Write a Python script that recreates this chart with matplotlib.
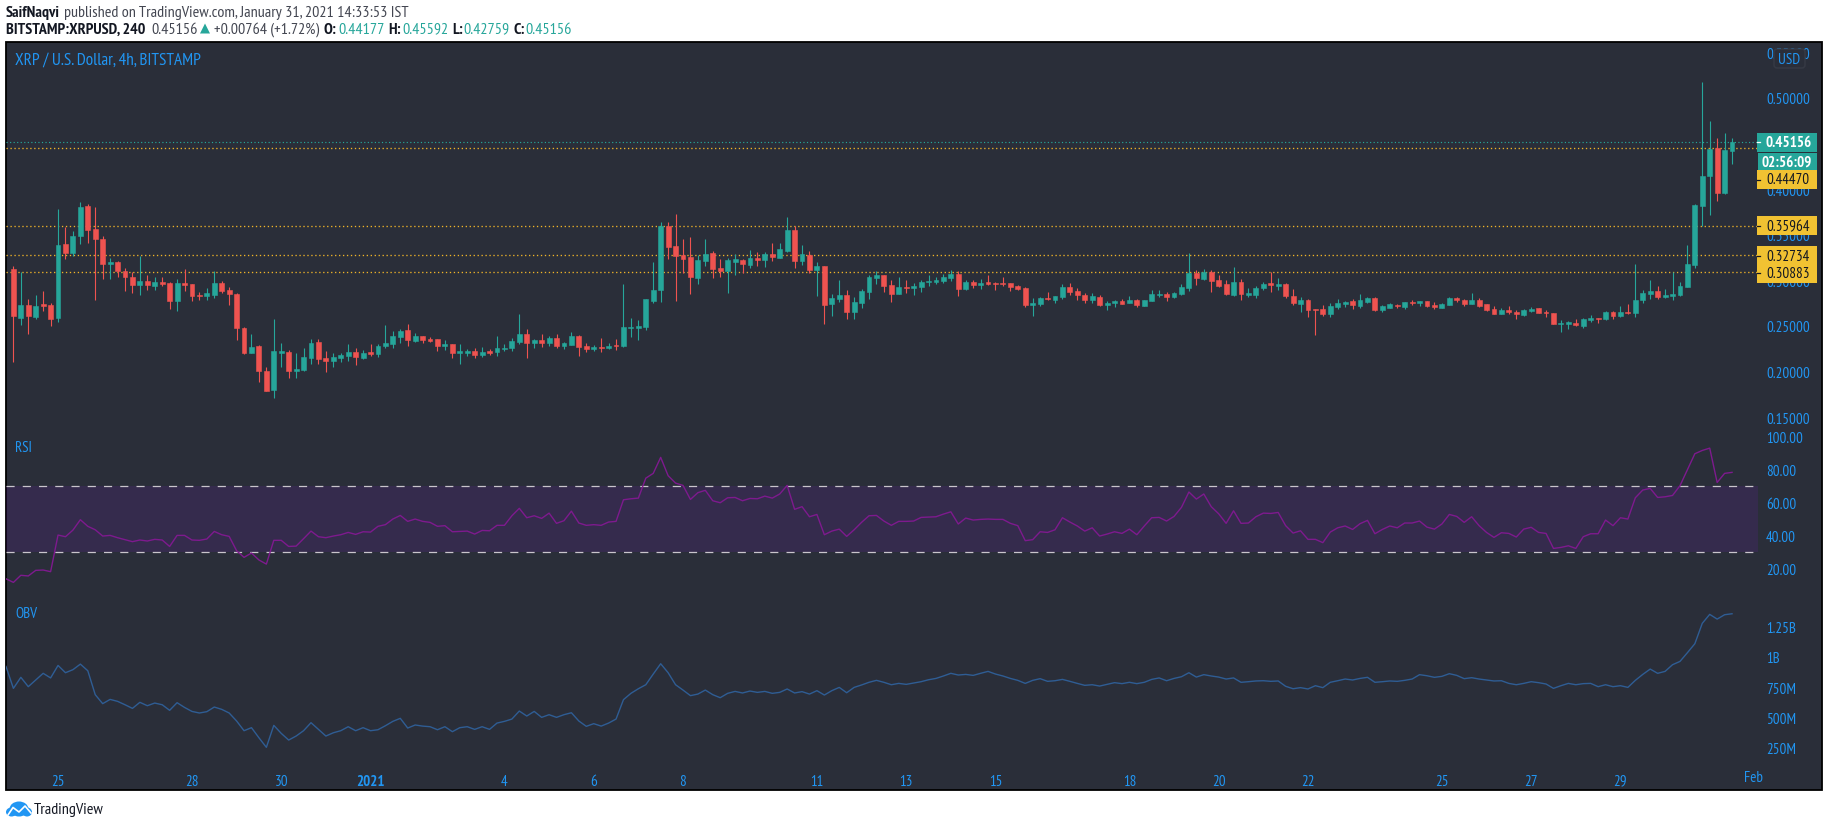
import numpy as np
import matplotlib
matplotlib.use("Agg")
import matplotlib.pyplot as plt
from matplotlib.patches import Rectangle, Polygon, Ellipse, FancyBboxPatch

plt.rcParams['font.family'] = ['PT Sans Narrow', 'Roboto Condensed', 'Liberation Sans', 'DejaVu Sans']

opens = [.3127,.2590,.2732,.2597,.2736,.2732,.2590,.3400,.3302,.3488,
.3816,.3565,.3455,.3174,.3203,.3105,.3039,.2951,.2995,.2940,
.2984,.2973,.2769,.2973,.2962,.2842,.2824,.2842,.2973,.2897,
.2853,.2480,.2199,.2283,.2010,.1794,.2207,.2218,.2010,.2021,
.2152,.2327,.2152,.2119,.2152,.2174,.2218,.2152,.2218,.2196,
.2283,.2305,.2382,.2459,.2338,.2393,.2360,.2360,.2283,.2305,
.2207,.2207,.2229,.2185,.2229,.2218,.2250,.2261,.2327,.2415,
.2316,.2349,.2316,.2371,.2283,.2294,.2393,.2283,.2250,.2272,
.2261,.2294,.2282,.2479,.2479,.2490,.2775,.2896,.3596,.3377,
.3279,.3257,.3027,.3213,.3301,.3136,.3104,.3202,.3224,.3169,
.3246,.3224,.3290,.3246,.3323,.3553,.3213,.3279,.3115,.3158,
.2742,.2797,.2841,.2655,.2753,.2874,.3027,.3060,.2950,.2852,
.2928,.2917,.2928,.2983,.2983,.2994,.3027,.3071,.2906,.2983,
.2950,.2983,.2976,.2972,.2972,.2939,.2917,.2731,.2742,.2808,
.2786,.2819,.2928,.2885,.2841,.2786,.2819,.2731,.2753,.2775,
.2753,.2786,.2720,.2775,.2841,.2852,.2819,.2852,.2917,.3082,
.3016,.3093,.3005,.2962,.2841,.2984,.2841,.2841,.2918,.2973,
.2940,.2962,.2830,.2743,.2787,.2684,.2688,.2633,.2710,.2743,
.2776,.2721,.2765,.2808,.2677,.2699,.2732,.2710,.2765,.2754,
.2776,.2732,.2699,.2732,.2808,.2787,.2743,.2787,.2743,.2688,
.2633,.2677,.2655,.2622,.2666,.2699,.2655,.2644,.2524,.2524,
.2535,.2502,.2568,.2589,.2578,.2655,.2611,.2655,.2644,.2787,
.2852,.2885,.2819,.2830,.2841,.2929,.3170,.3816,.4144,.4451,
.3958,.44177]

closes = [.2605,.2732,.2605,.2721,.2721,.2579,.3389,.3302,.3488,.3805,
.3557,.3448,.3174,.3203,.3097,.3032,.2951,.2995,.2951,.2984,
.2962,.2769,.2973,.2951,.2831,.2824,.2864,.2973,.2886,.2853,
.2480,.2207,.2272,.2002,.1791,.2229,.2229,.2010,.2031,.2163,
.2316,.2141,.2119,.2163,.2185,.2218,.2163,.2207,.2196,.2283,
.2316,.2393,.2448,.2349,.2393,.2349,.2338,.2283,.2305,.2207,
.2229,.2229,.2185,.2218,.2207,.2261,.2261,.2338,.2415,.2316,
.2349,.2316,.2371,.2283,.2316,.2393,.2272,.2250,.2272,.2261,
.2283,.2283,.2490,.2490,.2501,.2797,.2896,.3596,.3366,.3268,
.3235,.3038,.3224,.3290,.3125,.3104,.3224,.3235,.3180,.3246,
.3224,.3290,.3257,.3344,.3553,.3213,.3290,.3115,.3158,.2731,
.2808,.2841,.2655,.2764,.2885,.3038,.3060,.2939,.2852,.2928,
.2917,.2939,.2983,.2994,.3005,.3038,.3071,.2906,.2983,.2950,
.2972,.2961,.2965,.2961,.2928,.2906,.2731,.2753,.2808,.2797,
.2830,.2928,.2874,.2841,.2786,.2830,.2731,.2753,.2775,.2742,
.2786,.2731,.2786,.2852,.2852,.2819,.2863,.2928,.3082,.3027,
.3093,.2994,.2939,.2852,.2984,.2852,.2863,.2918,.2962,.2951,
.2962,.2830,.2754,.2787,.2677,.2677,.2633,.2721,.2754,.2765,
.2732,.2787,.2808,.2677,.2721,.2743,.2721,.2765,.2754,.2776,
.2721,.2710,.2743,.2808,.2787,.2743,.2787,.2721,.2677,.2633,
.2677,.2655,.2633,.2677,.2688,.2644,.2644,.2524,.2535,.2546,
.2513,.2578,.2589,.2578,.2655,.2611,.2655,.2644,.2787,.2863,
.2885,.2819,.2841,.2852,.2940,.3181,.3827,.4144,.4440,.3958,
.4429,.45156]

highs = [.3156,.3090,.2798,.2842,.2886,.2754,.3784,.3586,.3539,.3860,
.3838,.3805,.3484,.3243,.3210,.3134,.3090,.3272,.3061,.3035,
.3035,.2984,.3017,.3127,.2962,.2871,.2918,.3105,.2995,.2926,
.2864,.2488,.2415,.2294,.2053,.2579,.2316,.2239,.2207,.2261,
.2360,.2360,.2229,.2207,.2207,.2305,.2261,.2239,.2305,.2305,
.2513,.2440,.2470,.2524,.2426,.2393,.2382,.2360,.2349,.2305,
.2305,.2250,.2261,.2272,.2250,.2393,.2305,.2371,.2634,.2470,
.2360,.2415,.2393,.2415,.2327,.2437,.2404,.2316,.2294,.2371,
.2316,.2360,.2961,.2589,.2567,.2797,.3202,.3640,.3640,.3728,
.3454,.3476,.3279,.3454,.3323,.3235,.3246,.3290,.3235,.3333,
.3312,.3312,.3410,.3410,.3695,.3596,.3388,.3323,.3202,.3158,
.2852,.3005,.2896,.2819,.2906,.3060,.3104,.3060,.3005,.3038,
.3005,.2972,.3005,.3060,.3038,.3071,.3115,.3104,.3005,.3005,
.3016,.3060,.2983,.3038,.2972,.2950,.2928,.2808,.2819,.2874,
.2830,.2961,.2972,.2917,.2863,.2863,.2841,.2775,.2786,.2797,
.2830,.2797,.2786,.2896,.2896,.2874,.2874,.2961,.3301,.3115,
.3125,.3115,.3060,.3002,.3141,.3017,.2918,.2940,.2984,.3093,
.3027,.2973,.2907,.2819,.2798,.2688,.2732,.2754,.2798,.2776,
.2798,.2852,.2819,.2819,.2732,.2754,.2743,.2765,.2787,.2776,
.2776,.2765,.2754,.2819,.2819,.2798,.2863,.2808,.2743,.2721,
.2699,.2721,.2677,.2688,.2710,.2699,.2677,.2644,.2567,.2557,
.2578,.2589,.2622,.2589,.2666,.2666,.2721,.2743,.3181,.2896,
.3006,.2940,.2907,.3093,.2984,.3389,.3838,.5174,.4747,.4560,
.4615,.45592]

lows = [.2105,.2506,.2407,.2579,.2659,.2495,.2539,.3229,.3262,.3400,
.3411,.2780,.3010,.3017,.3032,.2878,.2864,.2835,.2889,.2897,
.2933,.2681,.2659,.2878,.2769,.2780,.2780,.2802,.2864,.2725,
.2342,.2188,.2199,.1885,.1783,.1707,.2053,.1926,.1933,.2010,
.2086,.2086,.1999,.2053,.2108,.2119,.2075,.2141,.2174,.2163,
.2261,.2261,.2316,.2283,.2327,.2316,.2327,.2229,.2239,.2152,
.2086,.2174,.2152,.2163,.2185,.2174,.2229,.2229,.2305,.2152,
.2261,.2272,.2283,.2261,.2250,.2294,.2174,.2218,.2229,.2218,
.2250,.2239,.2271,.2381,.2348,.2458,.2753,.2764,.3235,.2775,
.3082,.2852,.2961,.3158,.3027,.3038,.2863,.3060,.3082,.3136,
.3158,.3147,.3213,.3246,.3312,.3136,.3169,.3082,.2830,.2523,
.2611,.2764,.2578,.2578,.2698,.2797,.2961,.2874,.2764,.2852,
.2863,.2841,.2874,.2939,.2961,.2972,.2994,.2830,.2896,.2917,
.2906,.2950,.2896,.2939,.2885,.2896,.2709,.2611,.2720,.2786,
.2753,.2797,.2841,.2786,.2753,.2753,.2720,.2676,.2709,.2742,
.2753,.2709,.2720,.2775,.2819,.2775,.2808,.2841,.2885,.2950,
.3005,.2874,.2928,.2834,.2830,.2790,.2819,.2808,.2896,.2874,
.2896,.2808,.2732,.2655,.2600,.2403,.2611,.2600,.2688,.2710,
.2688,.2699,.2754,.2666,.2655,.2699,.2699,.2688,.2732,.2721,
.2710,.2688,.2699,.2732,.2765,.2721,.2743,.2710,.2666,.2633,
.2633,.2633,.2578,.2611,.2655,.2644,.2600,.2524,.2436,.2469,
.2502,.2480,.2546,.2535,.2568,.2578,.2600,.2633,.2600,.2754,
.2798,.2798,.2808,.2787,.2830,.2929,.3137,.3597,.3717,.3871,
.3947,.42759]

rsi = [13.6,11.4,15.7,15.3,18.7,18.9,17.9,40.1,39.1,43.1,49.4,45.4,43.3,39.5,39.9,38.5,37.3,36.1,37.1,36.5,37.5,37.1,33.2,39.9,39.9,37.1,36.9,37.7,42.3,40.3,39.3,30.6,26.6,29.2,25.0,22.5,36.9,36.9,33.2,33.4,37.9,42.5,39.1,38.5,39.5,40.3,41.7,40.5,42.1,41.9,45.4,46.4,49.8,52.0,48.4,49.8,48.4,47.8,45.4,45.8,42.1,42.3,42.5,40.7,42.9,42.7,46.0,46.0,51.8,56.3,50.6,51.8,50.2,53.4,47.2,48.8,54.6,47.4,46.0,46.4,46.0,48.0,48.4,
61.5,62.1,62.5,74.6,77.5,87.2,76.1,71.6,70.2,61.7,65.8,67.2,60.9,59.7,62.7,62.9,60.9,62.3,62.1,63.7,62.5,65.0,70.2,
55.7,57.3,51.2,52.6,40.3,42.5,43.7,39.3,43.3,47.8,51.8,52.0,48.6,46.0,48.4,48.4,48.6,50.8,51.0,51.2,52.8,54.2,46.8,50.4,49.2,49.6,49.8,49.6,49.6,47.2,45.8,36.7,37.3,42.1,41.7,43.3,50.6,48.0,45.6,42.5,44.5,39.5,40.7,42.1,41.1,43.7,40.3,45.6,50.6,50.8,48.6,51.4,56.9,66.2,61.9,65.0,57.3,53.0,47.2,54.8,47.2,
47.4,51.2,53.4,53.2,53.8,45.8,41.3,42.7,37.5,37.5,35.5,41.9,44.5,45.6,43.5,47.0,49.0,40.9,43.5,45.6,44.5,47.4,47.4,48.6,44.9,43.7,46.8,52.6,51.4,47.8,51.2,45.8,41.7,38.7,41.5,41.1,38.9,43.7,44.8,41.7,41.1,32.0,32.6,33.6,32.0,39.1,40.9,40.9,49.2,45.8,50.6,49.8,62.7,67.4,68.4,62.9,63.3,64.1,70.0,79.7,89.4,91.4,92.8,72.0,77.5,78.1]

obv = [920,739,830,753,808,863,825,928,868,893,939,884,687,613,648,632,604,574,624,596,618,604,558,621,582,549,536,547,585,566,536,470,390,415,332,253,434,368,313,346,390,456,401,346,373,390,423,390,415,390,398,431,467,492,412,437,428,423,398,423,382,415,423,401,423,401,453,467,486,552,511,549,500,522,500,522,538,470,426,448,428,453,486,
646,698,736,769,857,942,868,769,725,679,692,725,687,662,698,714,701,717,706,714,698,706,734,
701,712,692,720,684,720,747,703,747,767,789,805,789,769,780,772,783,794,810,821,841,863,849,854,846,863,879,857,841,821,805,780,805,819,797,802,813,797,780,764,769,758,772,786,778,789,778,789,813,825,802,821,835,868,832,852,841,832,816,825,789,
794,800,802,797,800,756,736,745,734,761,745,789,802,816,808,821,830,789,794,800,797,805,816,852,843,830,838,860,846,819,827,816,808,800,802,780,769,780,794,786,775,739,761,780,769,778,780,753,769,753,761,747,805,854,898,863,879,934,961,1033,1107,1275,1349,1310,1346,1354]

levels = [0.44470, 0.35964, 0.32734, 0.30883]
last_price = 0.45156
price_ticks = [0.15, 0.20, 0.25, 0.30, 0.35, 0.40, 0.50, 0.55]
rsi_ticks = [20, 40, 60, 80, 100]
obv_ticks = [250, 500, 750, 1000, 1250]
obv_labels = ['250M', '500M', '750M', '1B', '1.25B']
date_pos = [6, 24, 36, 48, 66, 78, 90, 108, 120, 132, 150, 162, 174, 192, 204, 216, 234]
date_labels = ['25', '28', '30', '2021', '4', '6', '8', '11', '13', '15', '18', '20', '22', '25', '27', '29', 'Feb']

W, H = 1828, 828
BG, RED, TEAL, YEL, YELB, BLUE = '#2A2E39', '#EF5350', '#26A69A', '#F0B428', '#F1C232', '#2196F3'
FS = 10.8
fig = plt.figure(figsize=(W/100, H/100), dpi=100, facecolor='white')

def pane(x0, y0, x1, y1, **kw):
    return fig.add_axes([x0/W, 1-y1/H, (x1-x0)/W, (y1-y0)/H], **kw)

# backdrop, pixel coordinates
bg = pane(0, 0, W, H, zorder=0)
bg.set_xlim(0, W); bg.set_ylim(H, 0); bg.axis('off')
bg.add_patch(Rectangle((6, 43), 1816, 748, fc=BG, ec='#000000', lw=1.3))

L, R = 6, 1758
XLIM = ((L-13.4)/7.44, (R-13.4)/7.44)
ax_p = pane(L, 43, R, 430, zorder=1)
ax_r = pane(L, 430, R, 596, zorder=1)
ax_o = pane(L, 596, R, 765, zorder=1)
for a in (ax_p, ax_r, ax_o):
    a.patch.set_alpha(0)
    a.set_xlim(*XLIM)
    for s in a.spines.values():
        s.set_visible(False)
    a.yaxis.tick_right()
    a.tick_params(axis='y', length=0, pad=5.8, labelcolor=BLUE, labelsize=FS)
    a.tick_params(axis='x', length=0, bottom=False, labelbottom=False)

# price pane
ax_p.set_ylim(0.1371, 0.5612)
ax_p.set_yticks(price_ticks)
ax_p.set_yticklabels([f'{v:.5f}' for v in price_ticks])
idx = np.arange(len(opens))
o, c, h, l = map(np.array, (opens, closes, highs, lows))
cols = [TEAL if b >= a else RED for a, b in zip(o, c)]
for v in levels:
    ax_p.axhline(v, color=YEL, lw=0.95, ls=(0, (1, 2)), zorder=1)
ax_p.axhline(last_price, color=TEAL, lw=0.85, ls=(0, (1, 2)), zorder=1)
ax_p.vlines(idx, l, h, colors=cols, lw=0.8, zorder=2)
ax_p.bar(idx, np.abs(c-o), bottom=np.minimum(o, c), width=0.66, color=cols,
         edgecolor=cols, linewidth=0.4, zorder=3)

# RSI pane
ax_r.set_ylim(3.76, 104.4)
ax_r.set_yticks(rsi_ticks)
ax_r.set_yticklabels([f'{v:.2f}' for v in rsi_ticks])
ax_r.axhspan(30, 70, color='#9915FF', alpha=0.10, lw=0)
for v in (30, 70):
    ax_r.axhline(v, color='#C9C5CC', lw=0.9, ls=(0, (6.5, 6.5)))
ax_r.plot(np.arange(-1, len(rsi)-1), rsi, color='#7E1A8E', lw=1.0)

# OBV pane
ax_o.set_ylim(115.6, 1508.6)
ax_o.set_yticks(obv_ticks)
ax_o.set_yticklabels(obv_labels)
ax_o.plot(np.arange(-1, len(obv)-1), obv, color='#2F5D94', lw=1.0)
ax_o.set_xticks(date_pos[:-1])
ax_o.set_xticklabels(date_labels[:-1])
ax_o.tick_params(axis='x', labelbottom=True, labelcolor=BLUE, labelsize=FS, pad=7)
for lab in ax_o.get_xticklabels():
    if lab.get_text() == '2021':
        lab.set_fontweight('bold')

# overlay, pixel coordinates
ov = pane(0, 0, W, H, zorder=5)
ov.set_xlim(0, W); ov.set_ylim(H, 0); ov.axis('off'); ov.patch.set_alpha(0)

# the last date is cut by the pane edge
ov.text(1744, 777.7, date_labels[-1], color=BLUE, fontsize=FS, ha='left', va='center',
        clip_on=True, clip_path=Rectangle((0, 0), R-2, H, transform=ov.transData))

def py(v):
    """Screen row of a price."""
    return H - ax_p.transData.transform((0, v))[1]

def badge(yc, h_, text, fc, tc, weight='normal', tick=None, x0=1757, tx=1766):
    ov.add_patch(Rectangle((x0, yc-h_/2), 1817-x0, h_, fc=fc, ec='none', zorder=6))
    ov.text(tx, yc, text, color=tc, fontsize=FS, fontweight=weight, va='center', ha='left', zorder=7)
    if tick:
        ov.plot([1757, 1760], [yc, yc], color=tick, lw=0.9, zorder=7)

badge(py(last_price), 19, f'{last_price:.5f}', TEAL, 'white', 'bold', 'white')
badge(162.5, 17, '02:56:09', TEAL, 'white', 'bold', x0=1758, tx=1762)
badge(180.5, 19, f'{levels[0]:.5f}', YELB, '#131722', tick='#131722')
badge(py(levels[1]), 19, f'{levels[1]:.5f}', YELB, '#131722', tick='#131722')
ov.add_patch(Rectangle((1757, 247), 60, 37, fc=YELB, ec='none', zorder=6))
for v, yc in ((levels[2], 256.7), (levels[3], 274.3)):
    ov.text(1766, yc, f'{v:.5f}', color='#131722', fontsize=FS, va='center', ha='left', zorder=7)
    ov.plot([1757, 1760], [yc, yc], color='#131722', lw=0.9, zorder=7)

ov.add_patch(FancyBboxPatch((1775, 51), 29, 17, boxstyle='round,pad=1,rounding_size=3',
                            fc=BG, ec='#363A45', lw=1, zorder=6))
ov.text(1789, 59.5, 'USD', color=BLUE, fontsize=FS, ha='center', va='center', zorder=7)

ov.text(15, 60.7, 'XRP / U.S. Dollar, 4h, BITSTAMP', color=BLUE, fontsize=12.3, va='center')
ov.text(15, 448, 'RSI', color=BLUE, fontsize=FS, va='center')
ov.text(15, 614, 'OBV', color=BLUE, fontsize=FS, va='center')

# header
DK = '#131722'; GR = '#434651'
def t(x, y, s, color=GR, weight='normal', fs=11.5):
    ov.text(x, y, s, color=color, fontsize=fs, fontweight=weight, va='center', ha='left')
t(6, 12.7, 'SaifNaqvi', DK, 'bold')
t(64, 12.7, 'published on TradingView.com, January 31, 2021 14:33:53 IST')
t(6, 29.7, 'BITSTAMP:XRPUSD, 240', DK, 'bold')
t(151, 29.7, f'{last_price:.5f}')
ov.add_patch(Polygon([[200, 34.5], [210, 34.5], [205, 24.5]], fc=TEAL, ec='none'))
t(214, 29.7, '+0.00764 (+1.72%)')
for x, s in ((324, 'O:'), (388, 'H:'), (452, 'L:'), (513, 'C:')):
    t(x, 29.7, s, DK, 'bold')
for x, s in ((338, '0.44177'), (402, '0.45592'), (463, '0.42759'), (525, '0.45156')):
    t(x, 29.7, s, TEAL)

# footer logo
LOGO = '#2196F3'
ov.add_patch(Ellipse((19, 810), 19, 15, fc=LOGO, ec='none'))
ov.add_patch(Ellipse((11.5, 813), 11, 9, fc=LOGO, ec='none'))
ov.add_patch(Ellipse((27, 813), 10, 9, fc=LOGO, ec='none'))
ov.plot([8, 13, 19, 25, 31], [816, 808.5, 813, 807, 814], color='white', lw=1.2)
ov.text(34, 810, 'TradingView', color=DK, fontsize=11.5, va='center', ha='left')

fig.savefig('out.png', dpi=100, facecolor='white')
